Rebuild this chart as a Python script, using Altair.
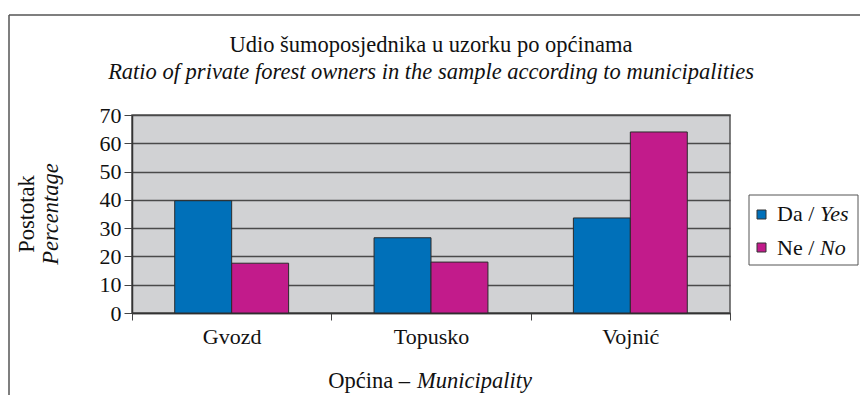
import altair as alt
import pandas as pd

# ---- data ----
municipalities = ["Gvozd", "Topusko", "Vojnić"]
series = ["Da / Yes", "Ne / No"]
da_values = [39.7, 26.6, 33.6]
ne_values = [17.6, 18.0, 64.0]
colors = ["#0070b9", "#c21b8b"]

title_line1 = "Udio šumoposjednika u uzorku po općinama"
title_line2 = "Ratio of private forest owners in the sample according to municipalities"
y_title_1 = "Postotak"
y_title_2 = "Percentage"
x_title_1 = "Općina –"
x_title_2 = "Municipality"
legend_normal = ["Da /", "Ne /"]
legend_italic = ["Yes", "No"]

rows = []
for m, d, n in zip(municipalities, da_values, ne_values):
    rows.append({"Općina": m, "Odgovor": series[0], "Postotak": d})
    rows.append({"Općina": m, "Odgovor": series[1], "Postotak": n})
df = pd.DataFrame(rows)

FONT = "Liberation Serif"
FS = 22.5
LFS = 22
W, H = 598, 198

bars = alt.Chart(df).mark_bar(stroke="#2b2b2b", strokeWidth=1).encode(
    x=alt.X(
        "Općina:N",
        sort=municipalities,
        scale=alt.Scale(paddingInner=0, paddingOuter=0),
        axis=alt.Axis(
            title=None, labelAngle=0, tickBand="extent", tickSize=7,
            tickColor="#444", domainColor="#333", domainWidth=1.5,
            labelFont=FONT, labelFontSize=LFS, labelColor="#111",
            labelPadding=6, grid=False,
        ),
    ),
    xOffset=alt.XOffset(
        "Odgovor:N", sort=series,
        scale=alt.Scale(paddingOuter=0.75, paddingInner=0),
    ),
    y=alt.Y(
        "Postotak:Q",
        scale=alt.Scale(domain=[0, 70], nice=False),
        axis=alt.Axis(
            title=None, values=list(range(0, 71, 10)), tickSize=8,
            tickColor="#444", domainColor="#333", domainWidth=1.5,
            labelFont=FONT, labelFontSize=LFS, labelColor="#111",
            labelPadding=3, grid=True, gridColor="#4a4a4a", gridWidth=1.3,
        ),
    ),
    color=alt.Color("Odgovor:N", scale=alt.Scale(domain=series, range=colors), legend=None),
)


def txt(s, x, y, style="normal", align="center", angle=0, size=FS):
    kw = dict(font=FONT, fontSize=size, fontStyle=style, align=align,
              baseline="alphabetic", color="#111")
    if angle:
        kw["angle"] = angle
    return alt.Chart(pd.DataFrame({"t": [s]})).mark_text(**kw).encode(
        text="t:N", x=alt.value(x), y=alt.value(y)
    )


dummy = pd.DataFrame({"a": [0]})
frame_top = alt.Chart(dummy).mark_rule(color="#555", strokeWidth=1.5).encode(
    x=alt.value(-123), x2=alt.value(740), y=alt.value(-100))
frame_left = alt.Chart(dummy).mark_rule(color="#555", strokeWidth=1.5).encode(
    x=alt.value(-123), y=alt.value(-100), y2=alt.value(290))

legend_box = alt.Chart(dummy).mark_rect(fill="white", stroke="#555", strokeWidth=1).encode(
    x=alt.value(617), x2=alt.value(726), y=alt.value(80), y2=alt.value(150))
sq1 = alt.Chart(dummy).mark_rect(fill=colors[0], stroke="#333", strokeWidth=1).encode(
    x=alt.value(625), x2=alt.value(634), y=alt.value(95), y2=alt.value(104))
sq2 = alt.Chart(dummy).mark_rect(fill=colors[1], stroke="#333", strokeWidth=1).encode(
    x=alt.value(625), x2=alt.value(634), y=alt.value(128), y2=alt.value(137))

layers = [
    frame_top, frame_left, bars,
    txt(title_line1, W / 2, 52 - 115),
    txt(title_line2, W / 2, 79 - 115, style="italic"),
    txt(y_title_1, -98, H / 2, angle=270),
    txt(y_title_2, -74, H / 2, style="italic", angle=270),
    txt(x_title_1, 278, 273, align="right"),
    txt(x_title_2, 285, 273, style="italic", align="left"),
    legend_box, sq1, sq2,
    txt(legend_normal[0], 645, 106, align="left", size=LFS),
    txt(legend_italic[0], 688, 106, style="italic", align="left", size=LFS),
    txt(legend_normal[1], 645, 140, align="left", size=LFS),
    txt(legend_italic[1], 688, 140, style="italic", align="left", size=LFS),
]

chart = alt.layer(*layers).properties(
    width=W, height=H,
    autosize=alt.AutoSizeParams(type="none"),
    padding={"left": 124, "top": 107, "right": 130, "bottom": 82},
    background="white",
).configure_view(fill="#d1d2d4", stroke="#555", strokeWidth=1.5)

chart.save("out.html", embed_options={"renderer": "svg", "actions": False})
